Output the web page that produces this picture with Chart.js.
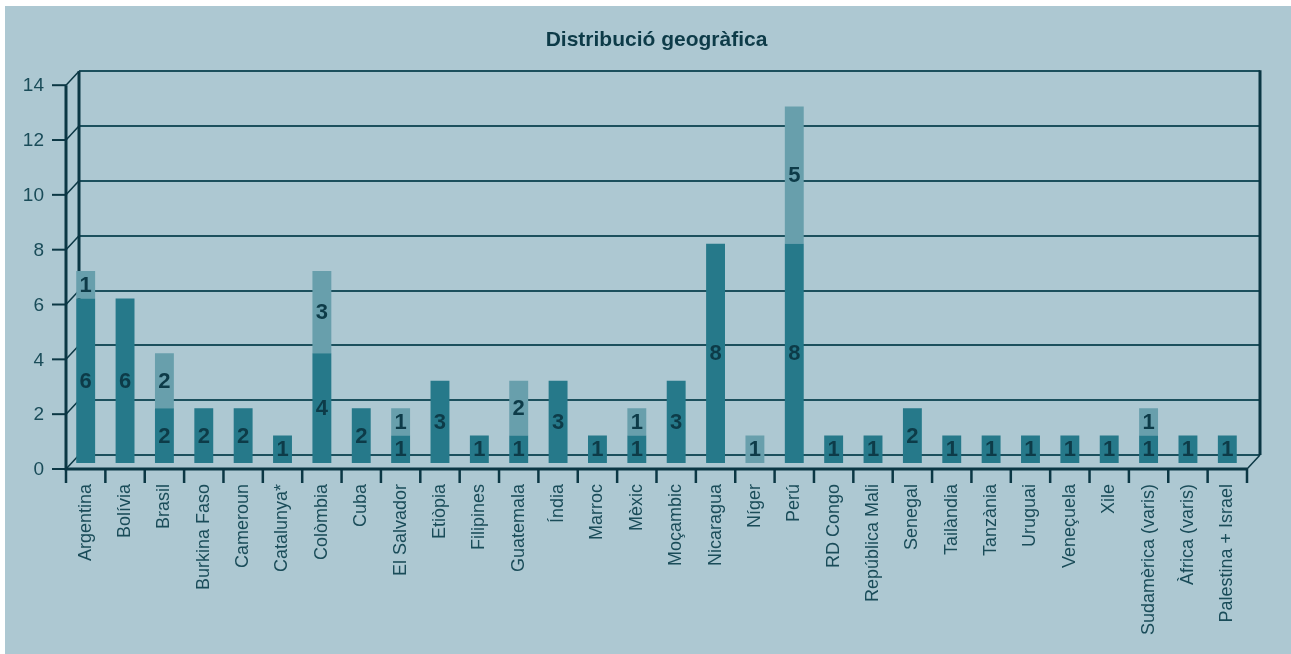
<!DOCTYPE html>
<html>
<head>
<meta charset="utf-8">
<script src="https://cdn.jsdelivr.net/npm/chart.js@4.4.1/dist/chart.umd.min.js"></script>
<style>
  html, body { margin: 0; padding: 0; background: #fff; overflow: hidden; }
  #wrap { width: 1291px; height: 654px; position: relative; }
</style>
</head>
<body>
<div id="wrap"><canvas id="geo-chart"></canvas></div>
<script>
// Distribució geogràfica — barres apilades amb aspecte 3D

const categories = ['Argentina', 'Bolívia', 'Brasil', 'Burkina Faso', 'Cameroun', 'Catalunya*',
    'Colòmbia', 'Cuba', 'El Salvador', 'Etiòpia', 'Filipines', 'Guatemala', 'Índia', 'Marroc',
    'Mèxic', 'Moçambic', 'Nicaragua', 'Níger', 'Perú', 'RD Congo', 'República Mali', 'Senegal',
    'Tailàndia', 'Tanzània', 'Uruguai', 'Veneçuela', 'Xile', 'Sudamèrica (varis)',
    'Àfrica (varis)', 'Palestina + Israel'];
const darkValues  = [6, 6, 2, 2, 2, 1, 4, 2, 1, 3, 1, 1, 3, 1, 1, 3, 8, 0, 8, 1, 1, 2, 1, 1, 1, 1, 1, 1, 1, 1];
const lightValues = [1, 0, 2, 0, 0, 0, 3, 0, 1, 0, 0, 2, 0, 0, 1, 0, 0, 1, 5, 0, 0, 0, 0, 0, 0, 0, 0, 1, 0, 0];
const yTicks = [0, 2, 4, 6, 8, 10, 12, 14];

const COL_BG = '#adc8d2';
const COL_DARK = '#26798a';
const COL_LIGHT = '#689fac';
const COL_LINE = '#0b3744';
const COL_GRID = '#1c505d';
const COL_TEXT = '#0d3b48';
const COL_LABEL = '#1a4c59';
const FONT = '"Liberation Sans", Arial, Helvetica, sans-serif';

// profunditat: paret del fons (+13, -8), eix frontal (0, +6)
const BACK_DX = 13, BACK_DY = -8, FRONT_DY = 6;

const frame3d = {
    id: 'frame3d',
    beforeDraw(chart) {
        const ctx = chart.ctx;
        ctx.save();
        ctx.fillStyle = '#fff';
        ctx.fillRect(0, 0, chart.width, chart.height);
        ctx.fillStyle = COL_BG;
        ctx.fillRect(5, 6, chart.width - 5, chart.height - 6);
        ctx.restore();
    },
    beforeDatasetsDraw(chart) {
        const ctx = chart.ctx;
        const y = chart.scales.y, x = chart.scales.x;
        const { left, right } = chart.chartArea;
        const y0 = y.getPixelForValue(0), yMax = y.getPixelForValue(14);
        ctx.save();

        // línies de la paret del fons
        ctx.strokeStyle = COL_GRID;
        ctx.lineWidth = 2;
        yTicks.forEach(v => {
            const py = Math.round(y.getPixelForValue(v) + BACK_DY);
            ctx.beginPath();
            ctx.moveTo(left + BACK_DX, py);
            ctx.lineTo(right + BACK_DX, py);
            ctx.stroke();
        });

        ctx.strokeStyle = COL_LINE;
        ctx.lineWidth = 3;
        // vores verticals de la paret
        ctx.beginPath();
        ctx.moveTo(left + BACK_DX, yMax + BACK_DY);
        ctx.lineTo(left + BACK_DX, y0 + BACK_DY);
        ctx.moveTo(right + BACK_DX, yMax + BACK_DY - 1);
        ctx.lineTo(right + BACK_DX, y0 + BACK_DY);
        ctx.stroke();

        // eix Y frontal i eix X frontal
        ctx.beginPath();
        ctx.moveTo(left, yMax + FRONT_DY);
        ctx.lineTo(left, y0 + FRONT_DY);
        ctx.lineTo(right, y0 + FRONT_DY);
        ctx.stroke();

        // marques i diagonals de l'eix Y
        yTicks.forEach(v => {
            const pf = y.getPixelForValue(v) + FRONT_DY;
            ctx.lineWidth = 2;
            ctx.beginPath();
            ctx.moveTo(left - 14, pf);
            ctx.lineTo(left, pf);
            ctx.stroke();
            ctx.lineWidth = 1.5;
            ctx.beginPath();
            ctx.moveTo(left, pf);
            ctx.lineTo(left + BACK_DX, y.getPixelForValue(v) + BACK_DY);
            ctx.stroke();
        });
        // diagonal inferior dreta
        ctx.lineWidth = 1.5;
        ctx.beginPath();
        ctx.moveTo(right, y0 + FRONT_DY);
        ctx.lineTo(right + BACK_DX, y0 + BACK_DY);
        ctx.stroke();

        // marques de categoria a l'eix X
        ctx.lineWidth = 2.5;
        const half = (x.getPixelForValue(1) - x.getPixelForValue(0)) / 2;
        for (let i = 0; i <= categories.length; i++) {
            const px = i < categories.length ? x.getPixelForValue(i) - half : x.getPixelForValue(i - 1) + half;
            ctx.beginPath();
            ctx.moveTo(px, y0 + FRONT_DY);
            ctx.lineTo(px, y0 + FRONT_DY + 14);
            ctx.stroke();
        }

        // etiquetes de l'eix Y
        ctx.fillStyle = COL_LABEL;
        ctx.font = '19px ' + FONT;
        ctx.textAlign = 'right';
        ctx.textBaseline = 'middle';
        yTicks.forEach(v => {
            ctx.fillText(String(v), left - 22, y.getPixelForValue(v) + FRONT_DY + 1);
        });
        ctx.restore();
    },
    afterDatasetsDraw(chart) {
        const ctx = chart.ctx;
        ctx.save();
        ctx.fillStyle = COL_TEXT;
        ctx.font = 'bold 22px ' + FONT;
        ctx.textAlign = 'center';
        ctx.textBaseline = 'middle';
        chart.data.datasets.forEach((ds, di) => {
            const meta = chart.getDatasetMeta(di);
            meta.data.forEach((bar, i) => {
                const v = ds.data[i];
                if (!v) return;
                const p = bar.getProps(['x', 'y', 'base'], true);
                ctx.fillText(String(v), p.x, (p.y + p.base) / 2 + 1);
            });
        });
        ctx.restore();
    }
};

const ctx = document.getElementById('geo-chart').getContext('2d');
new Chart(ctx, {
    type: 'bar',
    data: {
        labels: categories,
        datasets: [
            { label: 'A', data: darkValues, backgroundColor: COL_DARK, borderWidth: 0 },
            { label: 'B', data: lightValues, backgroundColor: COL_LIGHT, borderWidth: 0 }
        ]
    },
    options: {
        responsive: true,
        maintainAspectRatio: false,
        animation: false,
        datasets: { bar: { barPercentage: 0.48, categoryPercentage: 1 } },
        layout: { padding: { left: 66, right: 44, top: 0, bottom: 0 } },
        scales: {
            x: {
                stacked: true,
                grid: { display: false },
                border: { display: false },
                ticks: {
                    autoSkip: false, maxRotation: 90, minRotation: 90, padding: 13,
                    color: COL_LABEL, font: { family: FONT, size: 18 }
                },
                afterFit: s => { s.height = 654 - 463; }
            },
            y: {
                stacked: true, display: false, min: 0, max: 14
            }
        },
        plugins: {
            legend: { display: false },
            tooltip: { enabled: false },
            title: {
                display: true, text: 'Distribució geogràfica', color: COL_TEXT,
                font: { family: FONT, size: 21, weight: 'bold' },
                padding: { top: 28, bottom: 26 }
            }
        }
    },
    plugins: [frame3d]
});
</script>
</body>
</html>
